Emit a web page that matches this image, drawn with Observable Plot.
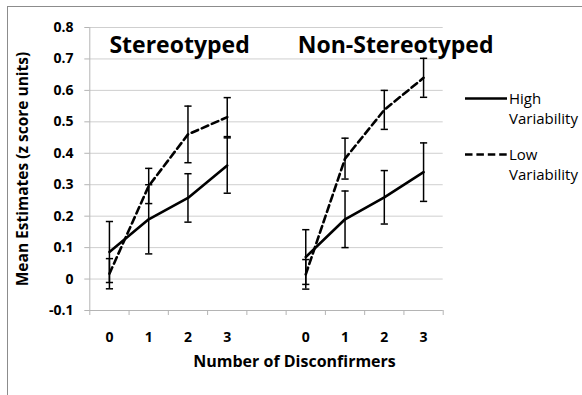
<!DOCTYPE html>
<html><head><meta charset="utf-8">
<script src="https://cdn.jsdelivr.net/npm/d3@7"></script>
<script src="https://cdn.jsdelivr.net/npm/@observablehq/plot@0.6"></script>
<style>
body{margin:0;background:#fff}
#wrap{position:relative;width:582px;height:395px;overflow:hidden;font-family:"Open Sans",sans-serif;background:#fff}
#frame{position:absolute;left:7px;top:6px;width:700px;height:500px;border-left:1px solid #8c8c8c;border-top:1px solid #8c8c8c;pointer-events:none}
#legend{position:absolute;left:465px;top:87.5px;font-size:15px;line-height:20.5px;color:#000}
.item{display:flex;align-items:flex-start;margin-bottom:15px}
.item svg{flex:none;margin-right:2px}
.item .lab{width:80px}
</style></head><body>
<div id="wrap"><div id="chart"></div><div id="frame"></div><div id="legend"></div></div>
<script>
// ---- data ----
const categories = ["0","1","2","3","","0","1","2","3"];
const panels = ["Stereotyped","Non-Stereotyped"];
const seriesNames = ["High Variability","Low Variability"];
const yTickValues = [-0.1,0,0.1,0.2,0.3,0.4,0.5,0.6,0.7,0.8];
const yTickLabels = ["-0.1","0","0.1","0.2","0.3","0.4","0.5","0.6","0.7","0.8"];

const stereoHigh    = [0.086, 0.19, 0.258, 0.361];
const stereoHighErr = [0.097, 0.11, 0.077, 0.088];
const stereoLow     = [0.017, 0.296, 0.46, 0.515];
const stereoLowErr  = [0.048, 0.056, 0.09, 0.062];
const nonHigh       = [0.07, 0.19, 0.26, 0.34];
const nonHighErr    = [0.087, 0.09, 0.085, 0.093];
const nonLow        = [0.015, 0.383, 0.538, 0.64];
const nonLowErr     = [0.047, 0.065, 0.062, 0.062];

// ---- build table ----
const gap = categories.indexOf("");
const panelStart = [0, gap + 1];
const valueTable = [
  [[stereoHigh, stereoHighErr], [stereoLow, stereoLowErr]],
  [[nonHigh, nonHighErr], [nonLow, nonLowErr]]
];
const rows = [];
panels.forEach((p, pi) => {
  seriesNames.forEach((s, si) => {
    const [m, e] = valueTable[pi][si];
    m.forEach((v, i) => rows.push({panel: p, series: s, x: panelStart[pi] + i, mean: v, err: e[i]}));
  });
});
const caps = rows.flatMap(d => [{x: d.x, y: d.mean - d.err}, {x: d.x, y: d.mean + d.err}]);
const boundaries = d3.range(categories.length + 1).map(i => i - 0.5);
const labelIdx = categories.map((c, i) => i).filter(i => categories[i] !== "");

const capSymbol = {draw(ctx) { ctx.moveTo(-3.6, 0); ctx.lineTo(3.6, 0); }};
const gray = "#b4b4b4";

const chart = Plot.plot({
  width: 582, height: 395,
  marginLeft: 89.3, marginRight: 139.3, marginTop: 27, marginBottom: 85,
  x: {type: "linear", domain: [-0.5, categories.length - 0.5]},
  y: {domain: [-0.1, 0.8]},
  style: {fontFamily: "'Open Sans', sans-serif", fontSize: "14px", fontWeight: "bold", background: "white", color: "black"},
  marks: [
    Plot.gridY(yTickValues, {stroke: "#cfcfcf", strokeOpacity: 1}),
    Plot.ruleX([-0.5], {stroke: gray}),
    Plot.ruleY([-0.1], {stroke: gray}),
    Plot.axisY(yTickValues, {tickSize: 5, tickPadding: 11.3, stroke: gray, fill: "black", label: null,
      tickFormat: v => yTickLabels[yTickValues.indexOf(v)]}),
    Plot.axisX(boundaries, {tickSize: 5, stroke: gray, tickFormat: () => "", label: null}),
    Plot.axisX(labelIdx, {tickSize: 0, tickPadding: 22, fill: "black", label: null, tickFormat: i => categories[i]}),
    Plot.ruleX(rows, {x: "x", y1: d => d.mean - d.err, y2: d => d.mean + d.err, stroke: "black", strokeWidth: 1.5}),
    Plot.dot(caps, {x: "x", y: "y", symbol: capSymbol, fill: "none", stroke: "black", strokeWidth: 1.5}),
    Plot.line(rows.filter(d => d.series === seriesNames[0]), {x: "x", y: "mean", z: "panel", stroke: "black", strokeWidth: 2.6}),
    Plot.line(rows.filter(d => d.series === seriesNames[1]), {x: "x", y: "mean", z: "panel", stroke: "black", strokeWidth: 2.6, strokeDasharray: "7,4"}),
    Plot.text([panels[0]], {x: () => panelStart[0], text: d => d, frameAnchor: "top", textAnchor: "start", lineAnchor: "bottom", dy: 25.7, fontSize: 23, fontWeight: "bold"}),
    Plot.text([panels[1]], {x: () => panelStart[1], text: d => d, frameAnchor: "top", textAnchor: "start", lineAnchor: "bottom", dy: 25.7, dx: -8, fontSize: 23, fontWeight: "bold"}),
    Plot.text(["Number of Disconfirmers"], {text: d => d, frameAnchor: "bottom", lineAnchor: "bottom", dy: 56.7, dx: 28, fontSize: 16, fontWeight: "bold"}),
    Plot.text(["Mean Estimates (z score units)"], {text: d => d, frameAnchor: "left", textAnchor: "middle", lineAnchor: "middle", rotate: -90, dx: -67, fontSize: 15.5, fontWeight: "bold"})
  ]
});
document.getElementById("chart").appendChild(chart);

// ---- legend ----
const legend = document.getElementById("legend");
seriesNames.forEach((s, i) => {
  const item = document.createElement("div");
  item.className = "item";
  item.innerHTML = `<svg width="42" height="21"><line x1="0" x2="42" y1="10.5" y2="10.5" stroke="black" stroke-width="2.6" ${i ? 'stroke-dasharray="7.5,3.9"' : ''}/></svg><div class="lab">${s}</div>`;
  legend.appendChild(item);
});
</script>
</body></html>
